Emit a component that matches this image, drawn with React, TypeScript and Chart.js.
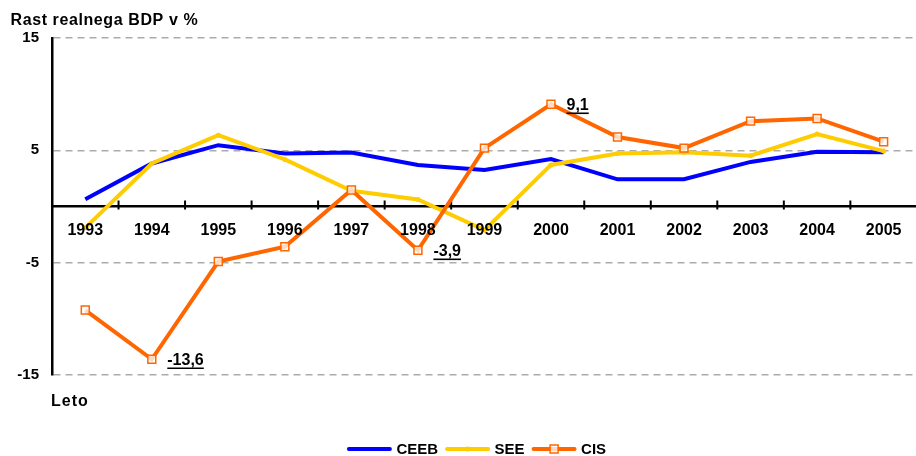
import React, { useEffect, useRef } from 'react';
import { Chart, registerables } from 'chart.js';

Chart.register(...registerables);

const years = ['1993', '1994', '1995', '1996', '1997', '1998', '1999', '2000', '2001', '2002', '2003', '2004', '2005'];
const ceeb = [0.65, 3.83, 5.46, 4.72, 4.8, 3.7, 3.25, 4.23, 2.42, 2.43, 3.97, 4.87, 4.82];
const see = [-1.9, 3.83, 6.35, 4.19, 1.4, 0.63, -2.1, 3.7, 4.72, 4.82, 4.52, 6.45, 4.93];
const cis = [-9.22, -13.6, -4.9, -3.58, 1.47, -3.9, 5.2, 9.1, 6.18, 5.2, 7.6, 7.84, 5.77];
const cisLabeledIdx = [1, 5, 7];
const yTicks = [-15, -5, 5, 15];
const seriesNames = ['CEEB', 'SEE', 'CIS'];
const chartTitle = 'Rast realnega BDP v %';
const xTitle = 'Leto';

const FONT = '"Liberation Sans", Arial, sans-serif';
const BLUE = '#0000FF';
const YELLOW = '#FFCC00';
const ORANGE = '#FF6600';

const fmt = (v: number) => v.toFixed(1).replace('.', ',');

const overlayPlugin = {
  id: 'overlay',
  beforeDatasetsDraw(chart: any) {
    const ctx = chart.ctx;
    const x = chart.scales.x;
    const y = chart.scales.y;
    const y0 = y.getPixelForValue(0);
    ctx.save();
    ctx.strokeStyle = '#000';
    ctx.lineWidth = 2;
    for (let i = 1; i < years.length; i++) {
      const px = (x.getPixelForValue(i - 1) + x.getPixelForValue(i)) / 2;
      ctx.beginPath();
      ctx.moveTo(px, y0 - 6);
      ctx.lineTo(px, y0 + 3);
      ctx.stroke();
    }
    ctx.restore();
  },
  afterDatasetsDraw(chart: any) {
    const ctx = chart.ctx;
    const x = chart.scales.x;
    const y = chart.scales.y;
    const y0 = y.getPixelForValue(0);
    ctx.save();
    // category labels, drawn above the series as in the reference
    ctx.font = `bold 16px ${FONT}`;
    ctx.fillStyle = '#000';
    ctx.textAlign = 'center';
    ctx.textBaseline = 'middle';
    (chart.data.labels as string[]).forEach((lab, i) => {
      ctx.fillText(lab, x.getPixelForValue(i), y0 + 23.8);
    });

    // value labels on CIS
    const meta = chart.getDatasetMeta(2);
    ctx.strokeStyle = '#000';
    ctx.textAlign = 'left';
    ctx.textBaseline = 'alphabetic';
    cisLabeledIdx.forEach((i) => {
      const el = meta.data[i];
      const txt = fmt(cis[i]);
      const tx = el.x + 15.5;
      const ty = el.y + 6;
      ctx.fillText(txt, tx, ty);
      const w = ctx.measureText(txt).width;
      ctx.lineWidth = 1.6;
      ctx.beginPath();
      ctx.moveTo(tx, ty + 3);
      ctx.lineTo(tx + w, ty + 3);
      ctx.stroke();
    });
    ctx.restore();
  },
  afterDraw(chart: any) {
    const ctx = chart.ctx;
    ctx.save();
    ctx.fillStyle = '#000';
    ctx.textAlign = 'left';
    ctx.textBaseline = 'alphabetic';
    ctx.font = `bold 16px ${FONT}`;
    (ctx as any).letterSpacing = '0.6px';
    ctx.fillText(chartTitle, 10.5, 24.8);
    (ctx as any).letterSpacing = '1px';
    ctx.fillText(xTitle, 51, 406);
    (ctx as any).letterSpacing = '0px';

    // legend
    ctx.font = `bold 15px ${FONT}`;
    const lineLen = 45;
    const gapText = 4.5;
    const gapItem = 7;
    const ds = chart.data.datasets;
    const widths = ds.map((d: any) => ctx.measureText(d.label).width);
    const total = widths.reduce((a: number, w: number) => a + lineLen + gapText + w, 0) + gapItem * (ds.length - 1);
    let cx = 476.5 - total / 2;
    const ly = 449;
    ds.forEach((d: any, k: number) => {
      ctx.strokeStyle = d.borderColor;
      ctx.lineWidth = 4;
      ctx.lineCap = 'round';
      ctx.beginPath();
      ctx.moveTo(cx + 2, ly);
      ctx.lineTo(cx + lineLen - 2, ly);
      ctx.stroke();
      const mx = cx + lineLen / 2;
      if (d.pointStyle === 'rect' && d.pointRadius > 0) {
        ctx.fillStyle = d.pointBackgroundColor;
        ctx.strokeStyle = d.pointBorderColor;
        ctx.lineWidth = 1.5;
        ctx.fillRect(mx - 4, ly - 4, 8, 8);
        ctx.strokeRect(mx - 4, ly - 4, 8, 8);
      } else if (d.pointRadius > 0) {
        ctx.fillStyle = d.pointBackgroundColor;
        ctx.beginPath();
        ctx.arc(mx, ly, d.pointRadius, 0, Math.PI * 2);
        ctx.fill();
      }
      ctx.fillStyle = '#000';
      ctx.textBaseline = 'middle';
      ctx.fillText(d.label, cx + lineLen + gapText, ly + 0.5);
      cx += lineLen + gapText + widths[k] + gapItem;
    });
    ctx.restore();
  },
};

export default function App() {
  const ref = useRef<HTMLCanvasElement | null>(null);

  useEffect(() => {
    document.body.style.margin = '0';
    const canvas = ref.current;
    if (!canvas) return;
    const chart = new Chart(canvas, {
      type: 'line',
      data: {
        labels: years,
        datasets: [
          {
            label: seriesNames[0],
            data: ceeb,
            borderColor: BLUE,
            backgroundColor: BLUE,
            borderWidth: 4,
            pointRadius: 0,
            tension: 0,
            order: 3,
          },
          {
            label: seriesNames[1],
            data: see,
            borderColor: YELLOW,
            backgroundColor: YELLOW,
            borderWidth: 4,
            pointRadius: 2.5,
            pointBackgroundColor: YELLOW,
            pointBorderColor: YELLOW,
            pointBorderWidth: 0,
            tension: 0,
            order: 2,
          },
          {
            label: seriesNames[2],
            data: cis,
            borderColor: ORANGE,
            backgroundColor: ORANGE,
            borderWidth: 4,
            pointStyle: 'rect',
            pointRadius: 5.6,
            pointBackgroundColor: 'rgba(255,255,255,0.75)',
            pointBorderColor: ORANGE,
            pointBorderWidth: 1.5,
            tension: 0,
            order: 1,
          },
        ] as any,
      },
      options: {
        animation: false,
        responsive: false,
        devicePixelRatio: 1,
        events: [],
        layout: { padding: { top: 38, bottom: 81, left: 0, right: 2 } },
        plugins: {
          legend: { display: false },
          title: { display: false },
          tooltip: { enabled: false },
        },
        scales: {
          x: {
            type: 'category',
            position: { y: 0 } as any,
            offset: true,
            grid: { display: false, drawTicks: false },
            border: { display: true, color: '#000', width: 2.5 },
            ticks: { display: false },
          },
          y: {
            type: 'linear',
            position: 'left',
            min: -15,
            max: 15,
            afterBuildTicks: (s: any) => {
              s.ticks = yTicks.map((v) => ({ value: v }));
            },
            afterFit: (s: any) => {
              s.width = 52;
            },
            grid: { color: '#ABABAB', lineWidth: 1.5, drawTicks: false },
            border: { display: true, color: '#000', width: 2.5, dash: [7, 5] },
            ticks: {
              color: '#000',
              font: { family: FONT, size: 15, weight: 'bold' },
              padding: 13,
            },
          },
        },
      } as any,
      plugins: [overlayPlugin],
    });
    return () => chart.destroy();
  }, []);

  return (
    <div style={{ width: 916, height: 456, overflow: 'hidden', position: 'relative', background: '#fff' }}>
      <canvas ref={ref} width={924} height={456} style={{ width: 924, height: 456, display: 'block' }} />
    </div>
  );
}
